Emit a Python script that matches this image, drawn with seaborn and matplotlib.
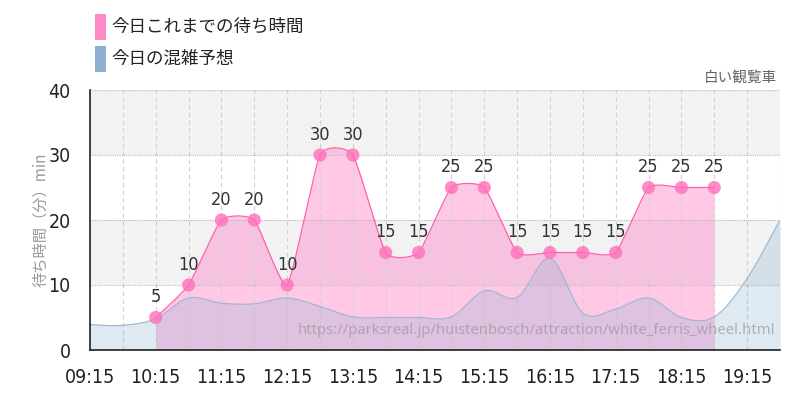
import matplotlib
matplotlib.use("Agg")
import matplotlib.pyplot as plt
import matplotlib.patches as mpatches
import numpy as np
import pandas as pd
import seaborn as sns

PINK = "#ff88c8"
PINK_LINE = "#ff5fac"
BLUE = "#8db0d0"
JP = ["Noto Sans CJK JP", "DejaVu Sans"]

wait_times = ["10:15", "10:45", "11:15", "11:45", "12:15", "12:45", "13:15", "13:45", "14:15",
              "14:45", "15:15", "15:45", "16:15", "16:45", "17:15", "17:45", "18:15", "18:45"]
wait_min = [5, 10, 20, 20, 10, 30, 30, 15, 15, 25, 25, 15, 15, 15, 15, 25, 25, 25]

crowd_times = ["09:15", "09:45", "10:15", "10:45", "11:15", "11:45", "12:15", "12:45", "13:15",
               "13:45", "14:15", "14:45", "15:15", "15:45", "16:15", "16:45", "17:15", "17:45",
               "18:15", "18:45", "19:15", "19:45"]
crowd = [3.9, 3.8, 4.8, 8.0, 7.2, 7.1, 8.0, 6.7, 5.1, 5.0, 5.0, 5.1, 9.1, 8.1, 14.1, 5.7,
         6.3, 8.0, 5.0, 5.1, 11.0, 20.0]

tick_labels = ["09:15", "10:15", "11:15", "12:15", "13:15", "14:15", "15:15", "16:15",
               "17:15", "18:15", "19:15"]


def to_hours(t):
    h, m = t.split(":")
    return int(h) + int(m) / 60


def cardinal(xs, ys, n=20, tension=0.5):
    # cardinal spline smoothing, drawing only
    px = np.concatenate([[xs[0]], xs, [xs[-1]]])
    py = np.concatenate([[ys[0]], ys, [ys[-1]]])
    k = (1 - tension) / 2
    t = np.linspace(0, 1, n, endpoint=False)
    h00 = 2 * t**3 - 3 * t**2 + 1
    h10 = t**3 - 2 * t**2 + t
    h01 = -2 * t**3 + 3 * t**2
    h11 = t**3 - t**2
    ox, oy = [], []
    for i in range(1, len(px) - 2):
        for p, o in ((px, ox), (py, oy)):
            m1 = k * (p[i + 1] - p[i - 1])
            m2 = k * (p[i + 2] - p[i])
            o.extend(h00 * p[i] + h10 * m1 + h01 * p[i + 1] + h11 * m2)
    ox.append(px[-2])
    oy.append(py[-2])
    return np.array(ox), np.array(oy)


wait_df = pd.DataFrame({"t": [to_hours(t) for t in wait_times], "min": wait_min})
crowd_df = pd.DataFrame({"t": [to_hours(t) for t in crowd_times], "v": crowd})

sns.set_style("white")
plt.rcParams["font.family"] = JP

num_font = dict(family="DejaVu Sans", stretch="condensed")

fig = plt.figure(figsize=(8, 4), dpi=100)
ax = fig.add_axes([0.1125, 0.125, 0.8625, 0.65])

ax.axhspan(10, 20, color="#f2f2f2", zorder=0, lw=0)
ax.axhspan(30, 40, color="#f2f2f2", zorder=0, lw=0)

wx, wy = cardinal(wait_df.t.values, wait_df["min"].values, tension=0.5)
cx, cy = cardinal(crowd_df.t.values, crowd_df.v.values, tension=0.0)

ax.fill_between(wx, 0, wy, color=PINK, alpha=0.45, lw=0, zorder=2)
ax.fill_between(cx, 0, cy, color=BLUE, alpha=0.28, lw=0, zorder=3)
sns.lineplot(x=cx, y=cy, ax=ax, color="#9fb8d2", lw=0.9, zorder=4, sort=False)
sns.lineplot(x=wx, y=wy, ax=ax, color=PINK_LINE, lw=0.9, zorder=5, sort=False)
sns.scatterplot(data=wait_df, x="t", y="min", ax=ax, color="#ff70bb", alpha=0.8,
                s=90, edgecolor="none", zorder=6)

for t, v in zip(wait_df.t, wait_df["min"]):
    ax.annotate(str(v), (t, v), xytext=(0, 8), textcoords="offset points",
                ha="center", va="bottom", fontsize=13, color="#333333", zorder=7, **num_font)

ax.set_xlim(to_hours("09:15"), to_hours("19:45"))
ax.set_ylim(0, 40)
ax.set_xticks([to_hours(t) for t in tick_labels])
ax.set_xticklabels(tick_labels, fontsize=14, color="#222222", **num_font)
ax.set_xticks([to_hours(t) for t in crowd_times], minor=True)
ax.set_yticks([0, 10, 20, 30, 40])
ax.set_yticklabels(["0", "10", "20", "30", "40"], fontsize=14, color="#222222", **num_font)
ax.tick_params(axis="x", which="major", length=7, color="#cccccc", pad=6)
ax.tick_params(axis="x", which="minor", length=0)
ax.tick_params(axis="y", length=12, color="#cccccc", pad=2)

ax.grid(True, axis="x", which="both", ls=(0, (4, 3)), color="#d0d0d0", lw=0.8, zorder=1)
ax.grid(True, axis="y", ls=(0, (1, 1)), color="#bbbbbb", lw=0.8, zorder=1)
ax.set_axisbelow(False)
for s in ("top", "right"):
    ax.spines[s].set_visible(False)
for s in ("left", "bottom"):
    ax.spines[s].set_color("#222222")
    ax.spines[s].set_linewidth(1.2)
    ax.spines[s].set_zorder(8)

ax.set_xlabel("")
ax.set_ylabel("待ち時間（分）min", fontsize=11, color="#999999")
ax.yaxis.set_label_coords(-0.06, 0.5)

ax.text(0.995, 1.02, "白い観覧車", transform=ax.transAxes, ha="right", va="bottom",
        fontsize=10.5, color="#666666")
ax.text(0.993, 0.045, "https://parksreal.jp/huistenbosch/attraction/white_ferris_wheel.html",
        transform=ax.transAxes, ha="right", va="bottom", fontsize=10.7, color="#999999",
        alpha=0.7, family=["Noto Sans", "DejaVu Sans"], zorder=7)

# legend
for i, (label, c) in enumerate([("今日これまでの待ち時間", PINK), ("今日の混雑予想", BLUE)]):
    y0 = 1 - (40 + 32 * i) / 400
    fig.patches.append(mpatches.Rectangle((95 / 800, y0), 11 / 800, 26 / 400,
                                          transform=fig.transFigure, color=c, lw=0))
    fig.text(111 / 800, y0 + 13 / 400, label, ha="left", va="center", fontsize=12.6,
             color="#222222")

fig.savefig("out.png", dpi=100)
